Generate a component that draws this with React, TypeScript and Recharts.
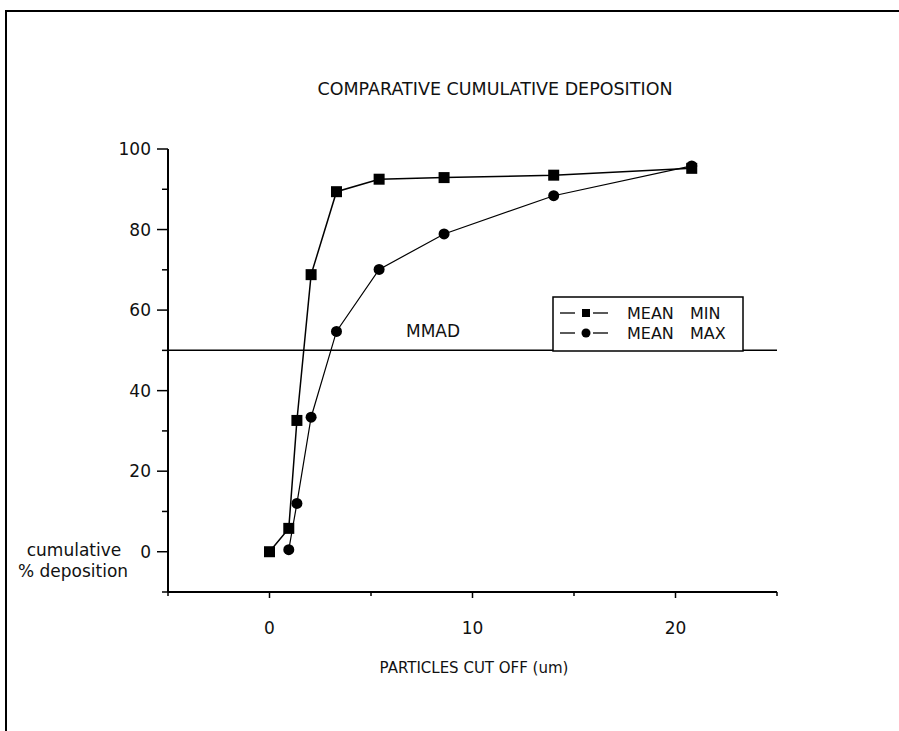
import React from 'react';
import {
  LineChart, Line, XAxis, YAxis, ReferenceLine, Label, Legend, Customized
} from 'recharts';

// particle cut-off sizes (um)
const cutoff = [0, 0.95, 1.35, 2.05, 3.3, 5.4, 8.6, 14.0, 20.8];
// cumulative % deposition
const meanMin = [0, 5.8, 32.6, 68.8, 89.4, 92.5, 92.9, 93.5, 95.2];
const meanMax = [null, 0.5, 12.0, 33.4, 54.7, 70.1, 78.9, 88.4, 95.8];

const xTicks = [-5, 0, 5, 10, 15, 20, 25];
const yTicks = [-10, 0, 10, 20, 30, 40, 50, 60, 70, 80, 90, 100];

const seriesNames = ['MEAN  MIN', 'MEAN  MAX'];

const data = cutoff.map((c, i) => ({ cutoff: c, min: meanMin[i], max: meanMax[i] }));

const FONT = '"DejaVu Sans", Verdana, sans-serif';

const SquareDot = (props: any) => {
  const { cx, cy } = props;
  if (cx == null || cy == null) return null;
  return <rect x={cx - 5.5} y={cy - 5.5} width={11} height={11} fill="#000" />;
};

const CircleDot = (props: any) => {
  const { cx, cy, value } = props;
  if (cx == null || cy == null || value == null) return null;
  return <circle cx={cx} cy={cy} r={5.5} fill="#000" />;
};

const YTick = (props: any) => {
  const { x, y, payload } = props;
  const v = payload.value;
  const major = v >= 0 && v % 20 === 0;
  const len = major ? 11 : 6;
  return (
    <g>
      <line x1={x - len} x2={x} y1={y} y2={y} stroke="#000" strokeWidth={1.5} />
      {major && (
        <text x={x - 17} y={y} dy={6} textAnchor="end" fontSize={17} fontFamily={FONT} fill="#111">
          {v}
        </text>
      )}
    </g>
  );
};

const XTick = (props: any) => {
  const { x, y, payload } = props;
  const v = payload.value;
  const major = v >= 0 && v % 10 === 0;
  const len = major ? 6 : 4;
  return (
    <g>
      <line x1={x} x2={x} y1={y} y2={y + len} stroke="#000" strokeWidth={1.5} />
      {major && (
        <text x={x} y={y + 42} textAnchor="middle" fontSize={17} fontFamily={FONT} fill="#111">
          {v}
        </text>
      )}
    </g>
  );
};

const MmadLabel = (props: any) => {
  const { viewBox } = props;
  if (!viewBox) return null;
  return (
    <text x={viewBox.x + 238} y={viewBox.y - 13} fontSize={17} fontFamily={FONT} fill="#111">
      MMAD
    </text>
  );
};

const LegendBox = () => (
  <svg width={192} height={56} style={{ display: 'block' }}>
    <rect x={1} y={1} width={190} height={54} fill="#fff" stroke="#000" strokeWidth={1.5} />
    {seriesNames.map((name, i) => {
      const y = 17 + i * 20;
      const [a, b] = name.split('  ');
      return (
        <g key={name}>
          <line x1={8} x2={23} y1={y} y2={y} stroke="#000" strokeWidth={1.3} />
          {i === 0
            ? <rect x={30} y={y - 4} width={8} height={8} fill="#000" />
            : <circle cx={34} cy={y} r={4.5} fill="#000" />}
          <line x1={41} x2={56} y1={y} y2={y} stroke="#000" strokeWidth={1.3} />
          <text x={75} y={y + 6} fontSize={16} fontFamily={FONT} fill="#111">{a}</text>
          <text x={138} y={y + 6} fontSize={16} fontFamily={FONT} fill="#111">{b}</text>
        </g>
      );
    })}
  </svg>
);

const Titles = () => (
  <g fontFamily={FONT} fill="#111">
    <text x={495} y={95} textAnchor="middle" fontSize={17.5}>COMPARATIVE CUMULATIVE DEPOSITION</text>
    <text x={474} y={673} textAnchor="middle" fontSize={15}>PARTICLES CUT OFF (um)</text>
    <text x={74} y={556} textAnchor="middle" fontSize={17}>cumulative</text>
    <text x={73} y={577} textAnchor="middle" fontSize={17}>% deposition</text>
  </g>
);

export default function App() {
  return (
    <div style={{ position: 'absolute', left: 0, top: 0, width: 899, height: 731, background: '#fff' }}>
      <div
        style={{
          position: 'absolute', left: 5, top: 10, width: 900, height: 730,
          borderLeft: '2px solid #000', borderTop: '2px solid #000'
        }}
      />
      <LineChart
        width={899}
        height={731}
        data={data}
        margin={{ top: 149, right: 122, bottom: 99, left: 108 }}
        style={{ position: 'absolute', left: 0, top: 0 }}
      >
        <XAxis
          dataKey="cutoff"
          type="number"
          domain={[-5, 25]}
          ticks={xTicks}
          interval={0}
          tickSize={0}
          tickMargin={0}
          height={40}
          tick={<XTick />}
          axisLine={{ stroke: '#000', strokeWidth: 2 }}
          tickLine={false}
        />
        <YAxis
          type="number"
          domain={[-10, 100]}
          ticks={yTicks}
          interval={0}
          tickSize={0}
          tickMargin={0}
          width={60}
          tick={<YTick />}
          axisLine={{ stroke: '#000', strokeWidth: 2 }}
          tickLine={false}
        />
        <ReferenceLine y={50} stroke="#000" strokeWidth={1.5} ifOverflow="extendDomain">
          <Label content={<MmadLabel />} />
        </ReferenceLine>
        <Line
          type="linear"
          dataKey="min"
          name={seriesNames[0]}
          stroke="#000"
          strokeWidth={1.5}
          dot={<SquareDot />}
          isAnimationActive={false}
        />
        <Line
          type="linear"
          dataKey="max"
          name={seriesNames[1]}
          stroke="#000"
          strokeWidth={1.2}
          dot={<CircleDot />}
          connectNulls={false}
          isAnimationActive={false}
        />
        <Legend
          content={<LegendBox />}
          layout="horizontal"
          align="center"
          verticalAlign="middle"
          wrapperStyle={{ position: 'absolute', left: 552, top: 296, width: 192, height: 56 }}
        />
        <Customized component={Titles} />
      </LineChart>
    </div>
  );
}
